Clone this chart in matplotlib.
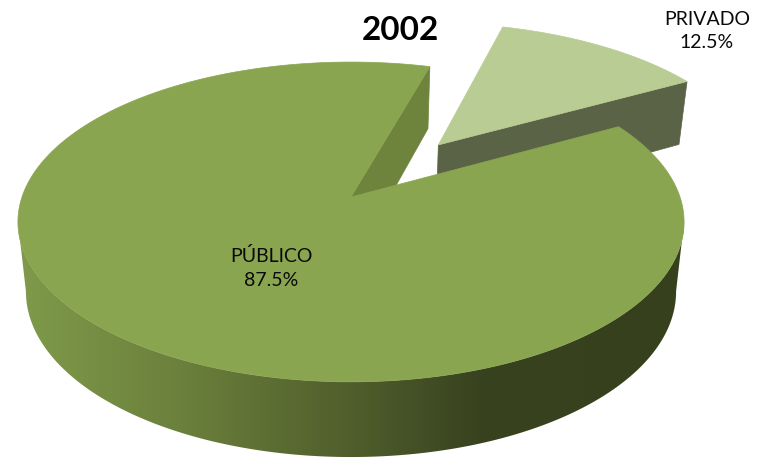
import numpy as np
from matplotlib import pyplot as plt
from matplotlib.patches import Polygon
from matplotlib.colors import LinearSegmentedColormap

plt.rcParams['font.family'] = ['Lato', 'DejaVu Sans']

# data
categories = ['PRIVADO', 'PÚBLICO']
shares = [12.5, 87.5]
title = '2002'

# look of the 3d pie, in pixels of the picture
cx, cy = 351, 197
rx, ry = 329, 156
persp = 0.156
first_angle = 16.0
explode = 0.45
top_private = '#b8cc93'
wall_private = '#5a6345'
top_public = '#8aa550'
wall_public = '#6e843d'
grad_stops = [0.0, 0.24, 0.51, 0.69, 1.0]
grad_col = ['#7f9a4a', '#6b803c', '#4e5c2b', '#38421f', '#36401d']


def project(u, v, z=0.0):
    # disc point to picture, z=1 is the lower face of the pie
    s = 1 / (1 + persp * v)
    x = cx + rx * u * s * (1 - 0.024 * z)
    y = cy - ry * v * s + z * (68.5 - 6.7 * v)
    return x, y


fig = plt.figure(figsize=(7.6, 4.61), dpi=100)
ax = fig.add_axes([0, 0, 1, 1])

a0 = first_angle
a1 = a0 + shares[0] * 3.6
a2 = a1 + shares[1] * 3.6

# private slice, pulled out along its middle direction
mid = np.radians((a0 + a1) / 2)
ou, ov = explode * np.sin(mid), explode * np.cos(mid)
t = np.radians(np.linspace(a0, a1, 60))
x, y = project(ou + np.sin(t), ov + np.cos(t))
ax_x, ax_y = project(ou, ov)
bx, by = project(ou, ov, 1)
ex, ey = project(ou + np.sin(t[-1]), ov + np.cos(t[-1]), 1)
ax.fill([ax_x, x[-1], ex, bx], [ax_y, y[-1], ey, by], color=wall_private, lw=0.5)
ax.fill(np.r_[ax_x, x], np.r_[ax_y, y], color=top_private, lw=0.5)

# public slice, outer wall filled with a left to right gradient
t = np.radians(np.linspace(a1, a2, 500))
x, y = project(np.sin(t), np.cos(t))
xb, yb = project(np.sin(t), np.cos(t), 1)
# only the front part of the rim, between the widest points of the top face
i_r, i_l = np.argmax(x), np.argmin(x)
wx = np.r_[x[i_r:i_l + 1], xb[i_r:i_l + 1][::-1]]
wy = np.r_[y[i_r:i_l + 1], yb[i_r:i_l + 1][::-1]]
wall = Polygon(np.c_[wx, wy], closed=True, fc='none', ec='none')
ax.add_patch(wall)
cmap = LinearSegmentedColormap.from_list('wall', list(zip(grad_stops, grad_col)))
im = ax.imshow(np.linspace(0, 1, 512)[None, :], cmap=cmap, extent=(20, 690, 461, 0),
               aspect='auto', interpolation='bilinear', vmin=0, vmax=1)
im.set_clip_path(wall)

# cut face seen through the gap
p0x, p0y = project(0, 0)
p1x, p1y = project(0, 0, 1)
ax.fill([p0x, x[-1], xb[-1], p1x], [p0y, y[-1], yb[-1], p1y], color=wall_public, lw=0.5)

# public top
ax.fill(np.r_[p0x, x], np.r_[p0y, y], color=top_public, lw=0.5)

ax.text(400, 30.5, title, fontsize=24, fontweight='bold', ha='center', va='center', color='black')
ax.text(707, 31, categories[0] + '\n%.1f%%' % shares[0], fontsize=14, ha='center', va='center',
        linespacing=1.43, color='#0a0a0a')
ax.text(271, 268, categories[1] + '\n%.1f%%' % shares[1], fontsize=14, ha='center', va='center',
        linespacing=1.43, color='#0a0a0a')

ax.set_xlim(0, 760)
ax.set_ylim(461, 0)
ax.axis('off')

fig.savefig('out.png', dpi=100)
